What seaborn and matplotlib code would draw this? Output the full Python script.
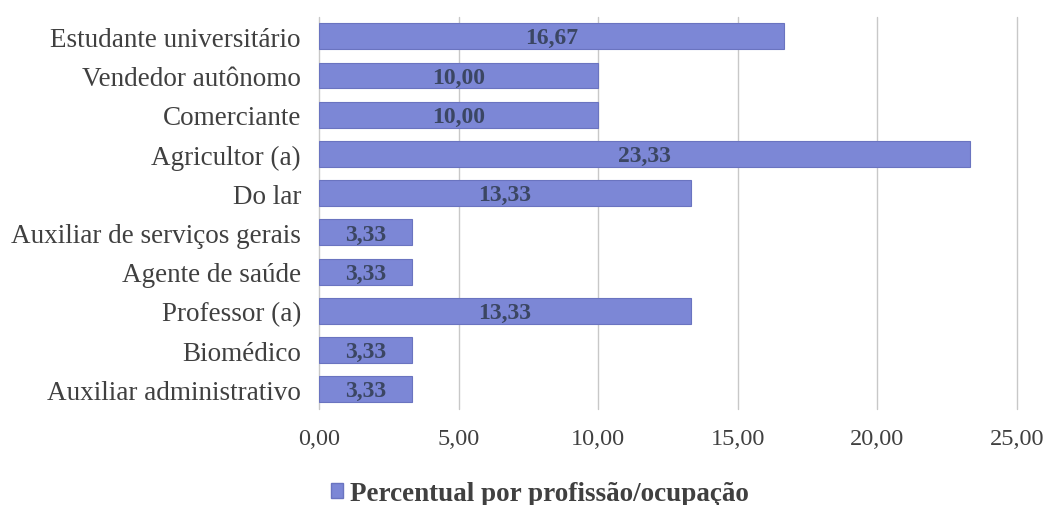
import matplotlib
matplotlib.use("Agg")
import matplotlib.pyplot as plt
import seaborn as sns
import pandas as pd
from matplotlib.patches import Patch

categories = [
    "Estudante universitário",
    "Vendedor autônomo",
    "Comerciante",
    "Agricultor (a)",
    "Do lar",
    "Auxiliar de serviços gerais",
    "Agente de saúde",
    "Professor (a)",
    "Biomédico",
    "Auxiliar administrativo",
]
values = [16.67, 10.00, 10.00, 23.33, 13.33, 3.33, 3.33, 13.33, 3.33, 3.33]
xticks = [0, 5, 10, 15, 20, 25]
series_name = "Percentual por profissão/ocupação"

sns.set_theme(style="white")
plt.rcParams["font.family"] = ["Liberation Serif", "DejaVu Serif"]

bar_color = "#7c87d6"
text_color = "#404040"

df = pd.DataFrame({"ocupacao": categories, "percentual": values})

fig = plt.figure(figsize=(10.51, 5.06), dpi=100)
ax = fig.add_axes([0.3035, 0.19, 0.6642, 0.775])

sns.barplot(data=df, x="percentual", y="ocupacao", color=bar_color,
            saturation=1, width=0.66, edgecolor="#6a74c0", linewidth=0.8,
            ax=ax, zorder=3)

ax.set_xlim(0, 25)
ax.set_xticks(xticks)
ax.set_xticklabels([f"{t:.2f}".replace(".", ",") for t in xticks],
                   fontsize=17.5, color=text_color)
ax.tick_params(axis="y", labelsize=19.5, colors=text_color, length=0, pad=13)
ax.tick_params(axis="x", length=0, pad=14)
ax.set_xlabel("")
ax.set_ylabel("")
ax.grid(axis="x", color="#c8c8c8", linewidth=1, zorder=0)
for gl in ax.xaxis.get_gridlines():
    gl.set_clip_on(False)
for s in ax.spines.values():
    s.set_visible(False)

for i, v in enumerate(values):
    ax.text(v / 2, i + 0.04, f"{v:.2f}".replace(".", ","), ha="center",
            va="center", fontsize=17, fontweight="bold", color="#3b4663",
            zorder=4)

handle = Patch(facecolor=bar_color, edgecolor="#6a74c0", label=series_name)
fig.legend(handles=[handle], loc="center", bbox_to_anchor=(0.514, 0.022),
           frameon=False, handlelength=0.45, handleheight=0.45, handletextpad=0.25,
           prop={"size": 19.5, "weight": "bold"}, labelcolor=text_color)

fig.savefig("out.png", dpi=100, facecolor="white")
